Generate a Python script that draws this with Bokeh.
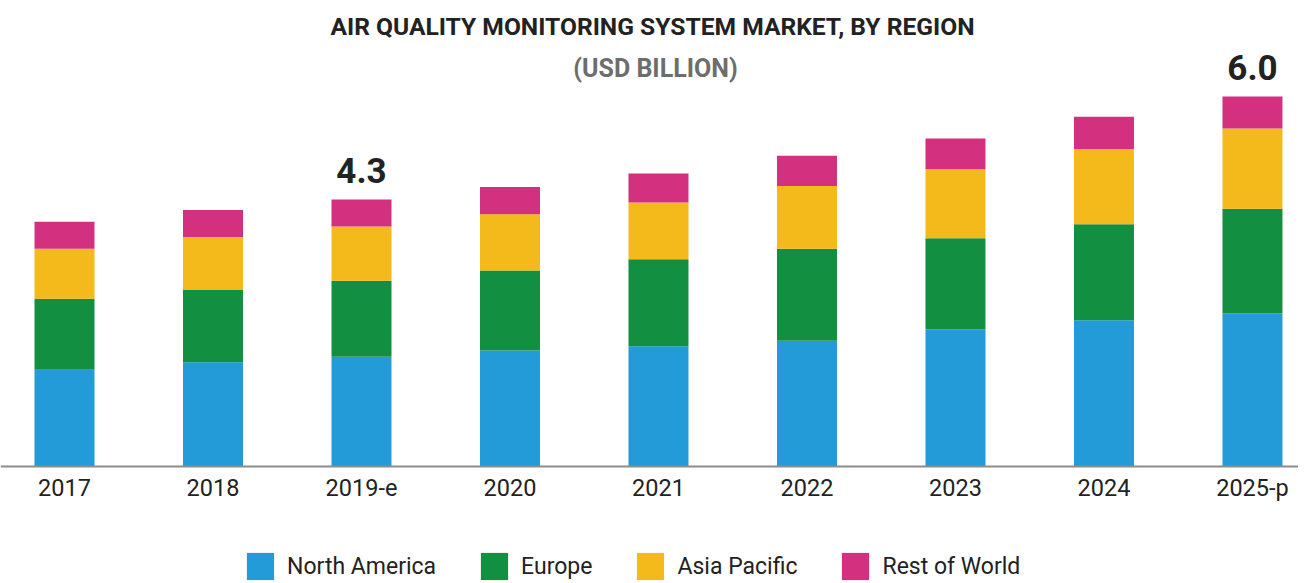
from bokeh.plotting import figure
from bokeh.models import (ColumnDataSource, FixedTicker, Label, LabelSet, Range1d)
from bokeh.core.properties import value
from bokeh.embed import file_html
from bokeh.resources import INLINE

years = ["2017", "2018", "2019-e", "2020", "2021", "2022", "2023", "2024", "2025-p"]
north_america = [1.57, 1.69, 1.78, 1.88, 1.95, 2.04, 2.22, 2.37, 2.48]
europe = [1.15, 1.17, 1.23, 1.30, 1.41, 1.49, 1.48, 1.56, 1.70]
asia_pacific = [0.81, 0.86, 0.88, 0.91, 0.92, 1.02, 1.12, 1.22, 1.30]
rest_of_world = [0.44, 0.44, 0.44, 0.44, 0.47, 0.49, 0.50, 0.52, 0.52]
series = ["North America", "Europe", "Asia Pacific", "Rest of World"]
colors = ["#229BD8", "#138F42", "#F4B91A", "#D3307F"]
label_years = ["2019-e", "2025-p"]
label_texts = ["4.3", "6.0"]

W, H = 1298, 583
xs = list(range(len(years)))
src = ColumnDataSource(dict(x=xs, na=north_america, eu=europe, ap=asia_pacific, rw=rest_of_world))

p = figure(width=W, height=H, output_backend="svg", toolbar_location=None,
           x_range=Range1d(-0.431, 8.310), y_range=Range1d(-1.897, 7.556),
           min_border=0, min_border_left=0, min_border_right=0,
           min_border_top=0, min_border_bottom=0)
p.outline_line_color = None
p.grid.visible = False
p.yaxis.visible = False
p.background_fill_color = "white"
p.border_fill_color = "white"

p.vbar_stack(["na", "eu", "ap", "rw"], x="x", width=0.404, source=src,
             color=colors, line_color=None, legend_label=series)

ax = p.xaxis[0]
ax.fixed_location = 0
ax.ticker = FixedTicker(ticks=xs)
ax.major_label_overrides = {i: y for i, y in zip(xs, years)}
ax.axis_line_color = "#8c8c8c"
ax.axis_line_width = 2
ax.major_tick_line_color = None
ax.minor_tick_line_color = None
ax.major_label_standoff = 1
ax.major_label_text_font = "Roboto"
ax.major_label_text_font_size = "23.5px"
ax.major_label_text_color = "#222222"

totals = [a + b + c + d for a, b, c, d in zip(north_america, europe, asia_pacific, rest_of_world)]
lsrc = ColumnDataSource(dict(
    x=[years.index(y) for y in label_years],
    y=[totals[years.index(y)] for y in label_years],
    t=label_texts))
p.add_layout(LabelSet(x="x", y="y", text="t", source=lsrc, y_offset=16,
                      text_align="center", text_baseline="alphabetic",
                      text_font=value("Roboto"), text_font_size=value("35px"),
                      text_font_style="bold", text_color="#222222"))

p.add_layout(Label(x=652, y=H - 26, x_units="screen", y_units="screen",
                   text="AIR QUALITY MONITORING SYSTEM MARKET, BY REGION",
                   text_align="center", text_baseline="middle",
                   text_font="Roboto", text_font_size="24.6px", text_font_style="bold",
                   text_color="#222222"))
p.add_layout(Label(x=655, y=H - 68, x_units="screen", y_units="screen",
                   text="(USD BILLION)",
                   text_align="center", text_baseline="middle",
                   text_font="Roboto", text_font_size="25px", text_font_style="bold",
                   text_color="#6d6d6d"))

lg = p.legend[0]
lg.orientation = "horizontal"
lg.location = (243, 0)
lg.margin = 0
lg.padding = 0
lg.border_line_color = None
lg.background_fill_alpha = 0
lg.glyph_width = 34
lg.glyph_height = 34
lg.label_height = 34
lg.label_standoff = 10
lg.spacing = 41
lg.label_text_font = "Roboto"
lg.label_text_font_size = "23px"
lg.label_text_color = "#222222"
lg.label_text_baseline = "middle"

open("out.html", "w").write(file_html(p, INLINE))
